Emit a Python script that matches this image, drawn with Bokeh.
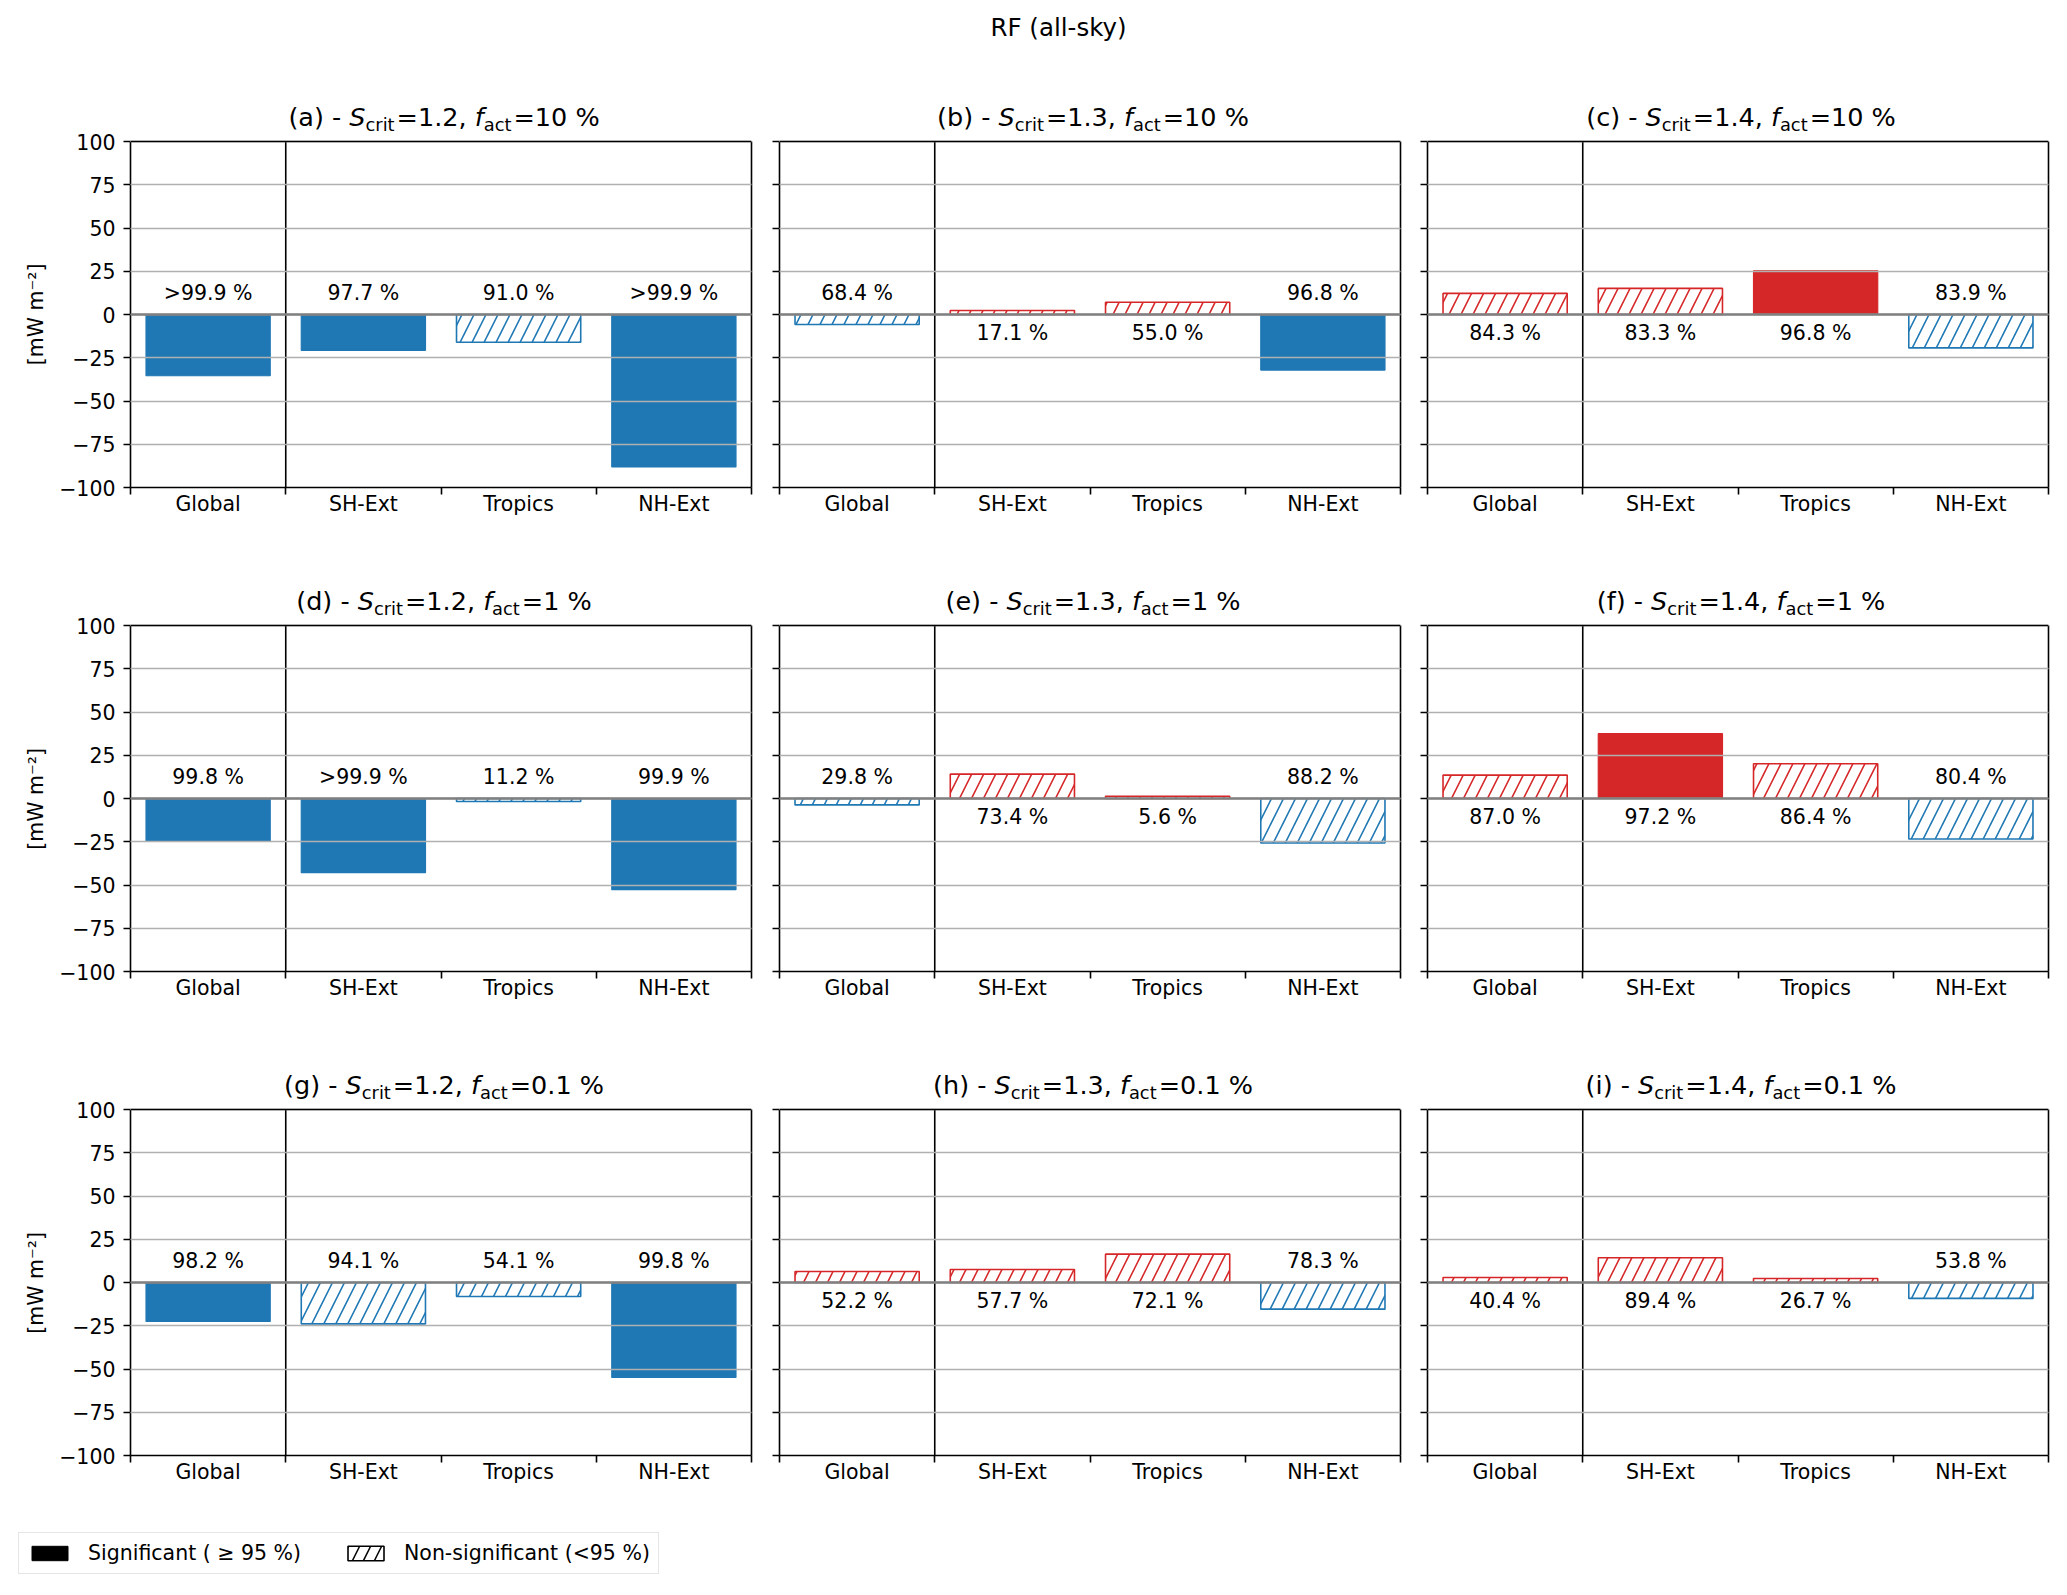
from bokeh.plotting import figure
from bokeh.layouts import column, row
from bokeh.models import (FixedTicker, CustomJSTickFormatter, Span, Range1d, LinearAxis,
                          Legend, LegendItem, ColumnDataSource)
from bokeh.core.properties import value
from bokeh.embed import file_html
from bokeh.resources import INLINE

# ---------------- data ----------------
suptitle = "RF (all-sky)"
regions = ["Global", "SH-Ext", "Tropics", "NH-Ext"]
panel_letters = ["a", "b", "c", "d", "e", "f", "g", "h", "i"]
s_crit_labels = ["1.2", "1.3", "1.4"]     # columns
f_act_labels = ["10", "1", "0.1"]        # rows
y_ticks = [-100, -75, -50, -25, 0, 25, 50, 75, 100]
y_unit_label = "[mW m\u207b\u00b2]"
legend_labels = ["Significant ( \u2265 95 %)", "Non-significant (<95 %)"]
sig_threshold = 95.0

rf_a = [-35.4, -20.7, -16.0, -88.1]
rf_b = [-5.8, 2.3, 7.1, -32.1]
rf_c = [12.2, 15.1, 25.3, -19.3]
rf_d = [-24.5, -42.9, -1.7, -52.7]
rf_e = [-3.7, 14.1, 1.3, -25.7]
rf_f = [13.5, 37.5, 20.1, -23.4]
rf_g = [-22.5, -23.9, -8.1, -54.9]
rf_h = [6.4, 7.5, 16.4, -15.4]
rf_i = [2.9, 14.3, 2.3, -9.2]

conf_a = [">99.9", "97.7", "91.0", ">99.9"]
conf_b = ["68.4", "17.1", "55.0", "96.8"]
conf_c = ["84.3", "83.3", "96.8", "83.9"]
conf_d = ["99.8", ">99.9", "11.2", "99.9"]
conf_e = ["29.8", "73.4", "5.6", "88.2"]
conf_f = ["87.0", "97.2", "86.4", "80.4"]
conf_g = ["98.2", "94.1", "54.1", "99.8"]
conf_h = ["52.2", "57.7", "72.1", "78.3"]
conf_i = ["40.4", "89.4", "26.7", "53.8"]

rf_panels = [rf_a, rf_b, rf_c, rf_d, rf_e, rf_f, rf_g, rf_h, rf_i]
conf_panels = [conf_a, conf_b, conf_c, conf_d, conf_e, conf_f, conf_g, conf_h, conf_i]

# ---------------- style / layout ----------------
FONT = "DejaVu Sans"
BLUE = "#1f77b4"
RED = "#d62728"
FW, FH = 621, 346                 # size of the (-100..100) plotting box in px
COL_LEFT = [130, 20, 20]
COL_RIGHT = [8, 7, 2]
ROW_EXT = [141, 88, 88]           # title space above each row's box (inside the frame)
ROW_BOTTOM = 50
TICK_PX = 20.5
TICK_FS = f"{TICK_PX}px"
TITLE_FS = 25.5
SUB_FS = 0.7 * TITLE_FS
X0, X1 = -0.5, len(regions) - 0.5
Y0, Y1 = -100, 100
PX_X = (X1 - X0) / FW
PX_Y = (Y1 - Y0) / FH
LW = 1.6

# DejaVu Sans advance widths (units per em = 2048)
ADV = {' ': 651, '(': 799, ')': 799, '-': 739, ',': 651, '.': 651, '=': 1716, '%': 1946,
       'a': 1255, 'b': 1300, 'c': 1126, 'd': 1300, 'e': 1260, 'f': 721, 'g': 1300,
       'h': 1298, 'i': 569, 'r': 842, 't': 803, 'S': 1300}
for dgt in "0123456789":
    ADV[dgt] = 1303
NBSP_W = 651 / 2048.0 * TICK_PX
THIN_W = 410 / 2048.0 * TICK_PX


def text_w(s, size):
    return sum(ADV.get(ch, 1300) for ch in s) / 2048.0 * size


def is_sig(c):
    return c.startswith(">") or float(c) >= sig_threshold


def centred_ylabel(ext_px):
    # the axis label is centred on the whole frame (box + title space); pad its
    # far end with no-break spaces so the visible text is centred on the box.
    n = int(ext_px // NBSP_W)
    rem = ext_px - n * NBSP_W
    pad = "\u00a0" * n + ("\u2009" if rem > THIN_W / 2 else "")
    return y_unit_label + pad


def add_title(p, r, c):
    k = 3 * r + c
    letter, s, f = panel_letters[k], s_crit_labels[c], f_act_labels[r]
    pieces = [(f"({letter}) - ", "normal", False), ("S", "italic", False),
              ("crit", "normal", True), (f"={s}, ", "normal", False),
              ("f", "italic", False), ("act", "normal", True),
              (f"={f} %", "normal", False)]
    gap = 2.0
    widths = []
    for txt, st, sub in pieces:
        w = text_w(txt, SUB_FS if sub else TITLE_FS)
        if sub:
            w += gap
        widths.append(w)
    total = sum(widths)
    cx = (X0 + X1) / 2.0
    pos = -total / 2.0 + 3.0
    main_mid = Y1 + (16 + 0.346 * TITLE_FS) * PX_Y
    sub_mid = Y1 + (11 + 0.346 * SUB_FS) * PX_Y
    xs, ys, txts, styles, sizes = [], [], [], [], []
    for (txt, st, sub), w in zip(pieces, widths):
        xs.append(cx + pos * PX_X)
        ys.append(sub_mid if sub else main_mid)
        txts.append(txt)
        styles.append(st)
        sizes.append(f"{SUB_FS if sub else TITLE_FS}px")
        pos += w
    src = ColumnDataSource(dict(x=xs, y=ys, text=txts, style=styles, size=sizes))
    p.text(x="x", y="y", text="text", source=src, text_font=value(FONT),
           text_font_style="style", text_font_size="size", text_color="black",
           text_align="left", text_baseline="middle")
    if k == 1:
        p.text(x=[X0 + 279 * PX_X], y=[Y1 + 114.5 * PX_Y], text=[suptitle],
               text_font=value(FONT), text_font_size=value("24.5px"), text_color="black",
               text_align="center", text_baseline="middle")


def make_panel(k):
    r, c = divmod(k, 3)
    vals = rf_panels[k]
    confs = conf_panels[k]
    L, R, E, B = COL_LEFT[c], COL_RIGHT[c], ROW_EXT[r], ROW_BOTTOM
    p = figure(width=L + FW + R, height=E + FH + B,
               x_range=Range1d(X0, X1), y_range=Range1d(Y0, Y1 + E * PX_Y),
               output_backend="svg", toolbar_location=None,
               min_border_left=L, min_border_right=R,
               min_border_top=0, min_border_bottom=B)
    p.background_fill_color = "white"
    p.border_fill_color = "white"
    p.outline_line_color = None

    xs = list(range(len(regions)))
    sig = [is_sig(cf) for cf in confs]
    cols = [RED if v > 0 else BLUE for v in vals]
    solid = ColumnDataSource(dict(x=[xs[i] for i in xs if sig[i]],
                                  top=[vals[i] for i in xs if sig[i]],
                                  color=[cols[i] for i in xs if sig[i]]))
    hatch = ColumnDataSource(dict(x=[xs[i] for i in xs if not sig[i]],
                                  top=[vals[i] for i in xs if not sig[i]],
                                  color=[cols[i] for i in xs if not sig[i]]))
    p.vbar(x="x", top="top", bottom=0, width=0.8, source=solid,
           fill_color="color", line_color="color", line_width=1.2)
    p.vbar(x="x", top="top", bottom=0, width=0.8, source=hatch,
           fill_color=None, line_color="color", line_width=LW,
           hatch_pattern="/", hatch_color="color", hatch_scale=24, hatch_weight=1.6)

    # significance labels (centre of text ~12.7 above / ~10.7 below zero)
    ty = [12.7 if v < 0 else -10.7 for v in vals]
    p.text(x=xs, y=ty, text=[cf + " %" for cf in confs],
           text_font=value(FONT), text_font_size=value(TICK_FS),
           text_align="center", text_baseline="middle", text_color="black")

    # grid / lines
    p.xgrid.visible = False
    p.ygrid.ticker = FixedTicker(ticks=y_ticks)
    p.ygrid.grid_line_color = "#b0b0b0"
    p.ygrid.grid_line_width = LW
    p.ygrid.level = "overlay"
    p.add_layout(Span(location=0, dimension="width", line_color="#808080",
                      line_width=2.6, level="overlay"))
    p.add_layout(Span(location=Y1, dimension="width", line_color="black",
                      line_width=LW, level="overlay"))
    sep = xs[0] + 0.5
    p.segment(x0=[sep], y0=[Y0], x1=[sep], y1=[Y1], line_color="black", line_width=LW)

    # right-hand box edge
    rax = LinearAxis(bounds=(Y0, Y1), ticker=FixedTicker(ticks=[]),
                     formatter=CustomJSTickFormatter(code="return '';"),
                     axis_line_color="black", axis_line_width=LW,
                     major_tick_line_color=None, minor_tick_line_color=None,
                     major_label_standoff=0)
    p.add_layout(rax, "right")

    # y axis
    yax = p.yaxis[0]
    yax.bounds = (Y0, Y1)
    yax.ticker = FixedTicker(ticks=y_ticks)
    yax.axis_line_color = "black"
    yax.axis_line_width = LW
    yax.major_tick_line_color = "black"
    yax.major_tick_line_width = LW
    yax.major_tick_out = 7
    yax.major_tick_in = 0
    yax.minor_tick_line_color = None
    yax.major_label_text_font = FONT
    yax.major_label_text_font_size = TICK_FS
    yax.major_label_text_color = "black"
    if c == 0:
        yax.formatter = CustomJSTickFormatter(
            code="return tick < 0 ? '\u2212' + Math.abs(tick) : String(tick);")
        yax.major_label_standoff = 8
        yax.axis_label = centred_ylabel(E)
        yax.axis_label_text_font = FONT
        yax.axis_label_text_font_size = TICK_FS
        yax.axis_label_text_font_style = "normal"
        yax.axis_label_text_color = "black"
        yax.axis_label_standoff = 8
    else:
        yax.formatter = CustomJSTickFormatter(code="return '';")
        yax.major_label_standoff = 0

    # x axis
    xax = p.xaxis[0]
    xax.ticker = FixedTicker(ticks=xs, minor_ticks=[i - 0.5 for i in range(len(regions) + 1)])
    xax.major_label_overrides = {i: regions[i] for i in xs}
    xax.axis_line_color = "black"
    xax.axis_line_width = LW
    xax.major_tick_line_color = None
    xax.major_tick_out = 0
    xax.major_tick_in = 0
    xax.minor_tick_line_color = "black"
    xax.minor_tick_line_width = LW
    xax.minor_tick_out = 7
    xax.minor_tick_in = 0
    xax.major_label_standoff = -3
    xax.major_label_text_font = FONT
    xax.major_label_text_font_size = TICK_FS
    xax.major_label_text_color = "black"

    add_title(p, r, c)
    return p


panels = [make_panel(k) for k in range(9)]

# ---------------- legend ----------------
lg = figure(width=720, height=70, x_range=Range1d(0, 1), y_range=Range1d(0, 1),
            output_backend="svg", toolbar_location=None,
            x_axis_location=None, y_axis_location=None,
            min_border_left=8, min_border_right=0, min_border_top=17, min_border_bottom=0)
lg.grid.visible = False
lg.outline_line_color = None
lg.background_fill_color = "white"
lg.border_fill_color = "white"
r_sig = lg.vbar(x=[0.5], top=[1], width=1, fill_color="black", line_color="black")
r_non = lg.vbar(x=[0.5], top=[1], width=1, fill_color="white", line_color="black",
                line_width=LW, hatch_pattern="/", hatch_color="black",
                hatch_scale=22, hatch_weight=1.5)
r_sig.visible = False
r_non.visible = False
legend = Legend(items=[LegendItem(label=legend_labels[0], renderers=[r_sig]),
                       LegendItem(label=legend_labels[1], renderers=[r_non])],
                location="top_left", orientation="horizontal",
                border_line_color="#cccccc", border_line_width=LW,
                background_fill_color="white", background_fill_alpha=1.0,
                inactive_fill_alpha=0.0,
                padding=8, spacing=42, margin=10,
                glyph_width=45, glyph_height=18, label_standoff=16,
                label_text_font=FONT, label_text_font_size=TICK_FS,
                label_text_color="black", label_height=20)
lg.add_layout(legend)

layout = column(row(*panels[0:3]), row(*panels[3:6]), row(*panels[6:9]), lg)

open("out.html", "w", encoding="utf-8").write(file_html(layout, INLINE))
